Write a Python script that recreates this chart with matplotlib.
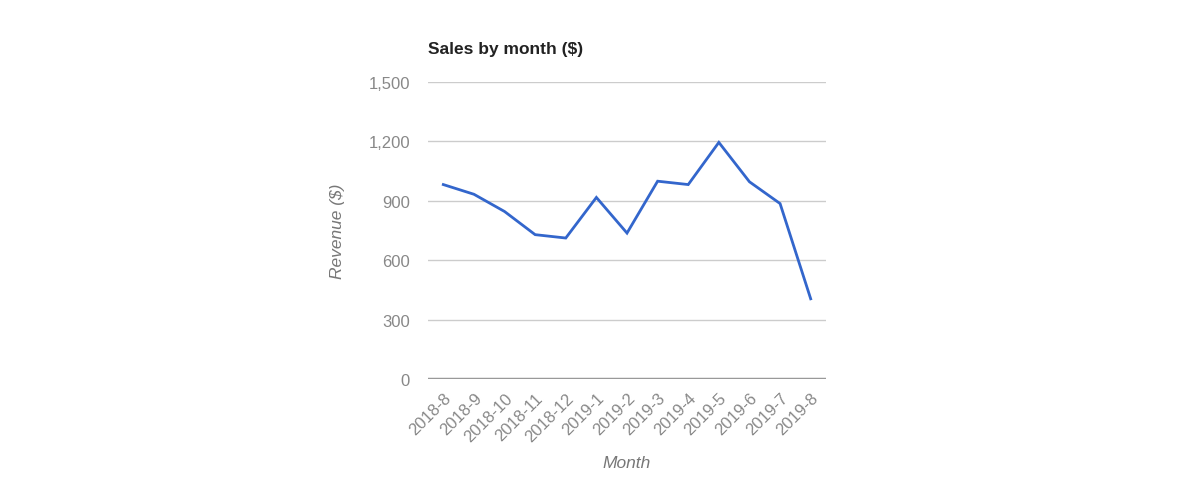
import matplotlib.pyplot as plt
from matplotlib.ticker import FuncFormatter

months = ['2018-8', '2018-9', '2018-10', '2018-11', '2018-12', '2019-1', '2019-2',
          '2019-3', '2019-4', '2019-5', '2019-6', '2019-7', '2019-8']
revenue = [982, 933, 846, 729, 712, 917, 737, 999, 982, 1195, 996, 886, 405]
yticks = [0, 300, 600, 900, 1200, 1500]

plt.rcParams['font.family'] = ['Liberation Sans', 'DejaVu Sans']

fig = plt.figure(figsize=(12, 4.81), dpi=100)
ax = fig.add_axes([428 / 1200, 1 - 380 / 481, (826 - 428) / 1200, (380 - 83) / 481])

x = list(range(len(months)))
ax.plot(x, revenue, color='#3366cc', linewidth=2, solid_joinstyle='miter', zorder=3)

ax.set_xlim(-0.5, len(months) - 0.5)
ax.set_ylim(0, 1500)
ax.set_yticks(yticks)
ax.yaxis.set_major_formatter(FuncFormatter(lambda v, p: f'{int(v):,}'))
ax.set_xticks(x)
ax.set_xticklabels(months, rotation=45, ha='right', rotation_mode='anchor')

ax.grid(axis='y', color='#cccccc', linewidth=1)
ax.set_axisbelow(True)
ax.axhline(0, color='#999999', linewidth=2.5, zorder=2)
for s in ax.spines.values():
    s.set_visible(False)
ax.tick_params(length=0, labelsize=12, colors='#888888')
ax.tick_params(axis='y', pad=13)
ax.tick_params(axis='x', pad=8)

ax.set_title('Sales by month ($)', loc='left', fontsize=12.5, fontweight='bold',
             color='#222222', pad=21)
ax.set_ylabel('Revenue ($)', fontsize=12.5, style='italic', color='#777777', labelpad=17)
ax.set_xlabel('Month', fontsize=12.5, style='italic', color='#777777', labelpad=8)

plt.savefig('out.png')
